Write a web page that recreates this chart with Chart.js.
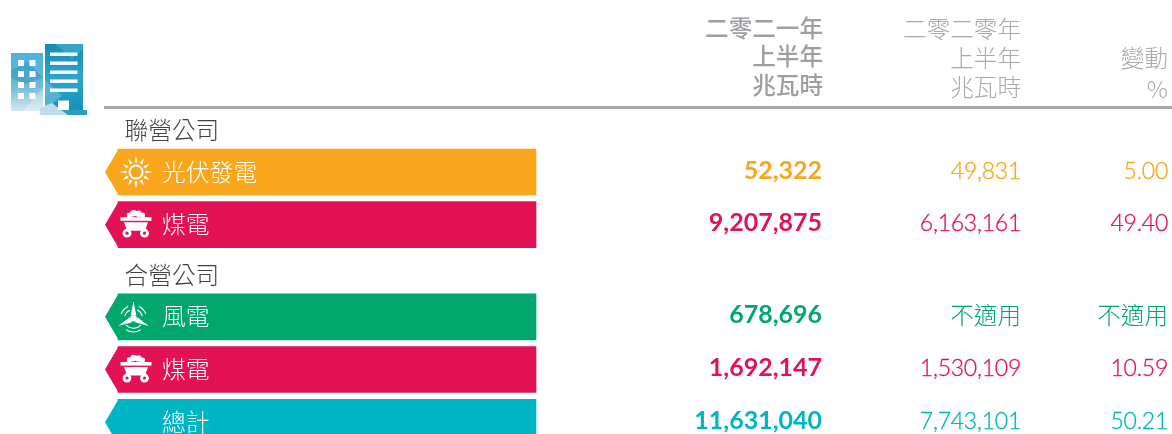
<!DOCTYPE html>
<html>
<head>
<meta charset="utf-8">
<style>
  html, body { margin: 0; padding: 0; background: #fff; overflow: hidden; }
  canvas { display: block; }
</style>
<script src="https://cdn.jsdelivr.net/npm/chart.js@4/dist/chart.umd.min.js"></script>
</head>
<body>
<canvas id="myChart" width="1172" height="434"></canvas>
<script>
const headers2021 = ['二零二一年', '上半年', '兆瓦時'];
const headers2020 = ['二零二零年', '上半年', '兆瓦時'];
const headersChange = ['變動', '%'];
const groupNames = ['聯營公司', '合營公司'];
const bandLabels = ['光伏發電', '煤電', '風電', '煤電', '總計'];
const bandGroups = [0, 0, 1, 1, null];
const bandIcons = ['sun', 'coal', 'wind', 'coal', null];
const values2021 = [52322, 9207875, 678696, 1692147, 11631040];
const values2020 = [49831, 6163161, null, 1530109, 7743101];
const changes = [5.00, 49.40, null, 10.59, 50.21];
const notApplicable = '不適用';

const bandColors = ['#f9a61c', '#e31255', '#02a76d', '#e31255', '#00b5c2'];
const cjk = '"Noto Sans CJK TC"';
const latin = 'Lato, ' + cjk;

// one y unit = one row pitch, section headings sit a bit closer to their first band
const rowPitch = 52.7;
const headingGap = 41 / rowPitch;
const firstHeading = 24 / rowPitch;

let slot = firstHeading - 1;
let lastGroup = -1;
const bandSlots = [];
const headingSlots = [];
bandGroups.forEach(g => {
  if (g !== null && g !== lastGroup) {
    slot += lastGroup === -1 ? 1 : 0.97;
    headingSlots.push(slot);
    slot += headingGap;
    lastGroup = g;
  } else {
    slot += 1;
  }
  bandSlots.push(slot);
});

const fmt = v => v.toLocaleString('en-US');
const fmtPct = v => v.toFixed(2);

function sunIcon(ctx, x, y) {
  ctx.strokeStyle = '#fff';
  ctx.fillStyle = '#fff';
  ctx.lineWidth = 2;
  ctx.beginPath();
  ctx.arc(x, y, 6.5, 0, Math.PI * 2);
  ctx.stroke();
  for (let i = 0; i < 12; i++) {
    const a = i * Math.PI / 6;
    const outer = i % 3 === 0 ? 16.5 : 15.5;
    const c = Math.cos(a), s = Math.sin(a);
    ctx.beginPath();
    ctx.moveTo(x + c * outer, y + s * outer);
    ctx.lineTo(x + c * 9.5 - s * 1.6, y + s * 9.5 + c * 1.6);
    ctx.lineTo(x + c * 9.5 + s * 1.6, y + s * 9.5 - c * 1.6);
    ctx.closePath();
    ctx.fill();
  }
}

function coalIcon(ctx, x, y, color) {
  ctx.fillStyle = '#fff';
  // coal pile
  [[-6, -9.5, 2.8], [-2, -11.5, 3.2], [3, -11, 3.2], [7, -9.5, 2.6]].forEach(b => {
    ctx.beginPath();
    ctx.arc(x + b[0], y + b[1], b[2], 0, Math.PI * 2);
    ctx.fill();
  });
  ctx.fillRect(x - 15, y - 7.5, 31, 3.6);
  ctx.beginPath();
  ctx.moveTo(x - 11.5, y - 2.5);
  ctx.lineTo(x + 12.5, y - 2.5);
  ctx.lineTo(x + 9.5, y + 6);
  ctx.lineTo(x - 8.5, y + 6);
  ctx.closePath();
  ctx.fill();
  [-8.5, 9].forEach(dx => {
    ctx.fillStyle = '#fff';
    ctx.beginPath();
    ctx.arc(x + dx, y + 8.5, 4.4, 0, Math.PI * 2);
    ctx.fill();
    ctx.fillStyle = color;
    ctx.beginPath();
    ctx.arc(x + dx, y + 8.5, 1.6, 0, Math.PI * 2);
    ctx.fill();
  });
}

function windIcon(ctx, x, y) {
  ctx.fillStyle = '#fff';
  ctx.strokeStyle = '#fff';
  [-Math.PI / 2, Math.PI / 6 - 0.06, Math.PI * 5 / 6 + 0.06].forEach(a => {
    const c = Math.cos(a), s = Math.sin(a);
    ctx.beginPath();
    ctx.moveTo(x + c * 17, y + s * 17);
    ctx.lineTo(x + c * 3 - s * 2.8, y + s * 3 + c * 2.8);
    ctx.lineTo(x + c * 3 + s * 2.8, y + s * 3 - c * 2.8);
    ctx.closePath();
    ctx.fill();
  });
  ctx.beginPath();
  ctx.arc(x, y, 3.2, 0, Math.PI * 2);
  ctx.fill();
  ctx.lineWidth = 1.1;
  [[9, -2.9, -2.0], [9, -1.15, -0.25], [13, -2.8, -2.0], [13, -1.15, -0.35], [10, 0.75, 2.4], [13.5, 1.0, 2.15]].forEach(r => {
    ctx.beginPath();
    ctx.arc(x, y, r[0], r[1], r[2]);
    ctx.stroke();
  });
}

function poly(ctx, pts, fill) {
  ctx.fillStyle = fill;
  ctx.beginPath();
  pts.forEach((p, i) => i ? ctx.lineTo(p[0], p[1]) : ctx.moveTo(p[0], p[1]));
  ctx.closePath();
  ctx.fill();
}

function buildingIcon(ctx) {
  const leftFill = ctx.createLinearGradient(0, 53, 0, 112);
  leftFill.addColorStop(0, '#49b3dc');
  leftFill.addColorStop(0.55, '#6fb9d6');
  leftFill.addColorStop(1, '#d5e9f1');
  ctx.fillStyle = leftFill;
  ctx.fillRect(11, 53, 32, 58);
  poly(ctx, [[11, 70], [28, 62], [43, 78], [25, 84], [11, 78]], 'rgba(30,130,175,0.35)');
  poly(ctx, [[22, 112], [43, 88], [43, 112]], 'rgba(255,255,255,0.3)');

  const rightFill = ctx.createLinearGradient(0, 44, 0, 115);
  rightFill.addColorStop(0, '#148db1');
  rightFill.addColorStop(0.5, '#2ea6ca');
  rightFill.addColorStop(1, '#0f8fb5');
  ctx.fillStyle = rightFill;
  ctx.fillRect(45, 44, 38, 66);
  poly(ctx, [[55, 44], [72, 58], [83, 50], [83, 44]], 'rgba(90,190,225,0.45)');
  poly(ctx, [[45, 80], [62, 96], [45, 110]], 'rgba(120,195,220,0.6)');
  poly(ctx, [[40, 110], [87, 110], [87, 115], [40, 115]], '#2a9fc2');
  poly(ctx, [[40, 115], [40, 108], [52, 103], [68, 115]], '#bcdde9');

  ctx.fillStyle = '#fff';
  [60, 71, 82, 93].forEach(wy => {
    ctx.fillRect(18, wy, 6, 6);
    ctx.fillRect(29.5, wy, 6, 6);
  });
  [52.5, 61.5, 70.5, 79.5, 88.5].forEach(wy => ctx.fillRect(50, wy, 27.5, 3.4));
  ctx.fillRect(58, 100.5, 11, 9.5);
}

function writeLines(ctx, lines, right, baselines, font, color, spacing, thicken) {
  ctx.font = font;
  ctx.fillStyle = color;
  ctx.strokeStyle = color;
  ctx.textAlign = 'right';
  ctx.letterSpacing = spacing || '0px';
  lines.forEach((l, i) => {
    ctx.fillText(l, right, baselines[i]);
    // Lato Light is a little thinner than the reference digits
    if (thicken) {
      ctx.lineWidth = thicken;
      ctx.strokeText(l, right, baselines[i]);
    }
  });
  ctx.letterSpacing = '0px';
}

const tablePlugin = {
  id: 'tablePlugin',
  afterDatasetsDraw(chart) {
    const ctx = chart.ctx;
    const yScale = chart.scales.y;
    const bars = chart.getDatasetMeta(0).data;
    ctx.save();
    ctx.beginPath();
    ctx.rect(0, 0, chart.width, chart.height);
    ctx.clip();
    ctx.textBaseline = 'alphabetic';

    // arrow heads on the bands
    bars.forEach((bar, i) => {
      const left = Math.min(bar.x, bar.base);
      poly(ctx, [[left + 0.5, bar.y - bar.height / 2], [left - 13, bar.y], [left + 0.5, bar.y + bar.height / 2]], bandColors[i]);
    });

    buildingIcon(ctx);

    // column headers
    writeLines(ctx, headers2021, 823, [37, 65, 94], '500 23.6px ' + cjk, '#9c9ea1');
    writeLines(ctx, headers2020, 1021, [38, 67, 96], '300 23.6px ' + cjk, '#a7a9ac');
    writeLines(ctx, headersChange, 1168, [67, 98], '300 23.6px ' + cjk, '#a7a9ac');

    // section headings
    groupNames.forEach((name, i) => {
      ctx.font = '300 23.7px ' + cjk;
      ctx.fillStyle = '#414042';
      ctx.textAlign = 'left';
      ctx.fillText(name, 124.5, yScale.getPixelForValue(headingSlots[i]) + 8);
    });

    bars.forEach((bar, i) => {
      const color = bandColors[i];
      const y = bar.y;
      if (bandIcons[i] === 'sun') sunIcon(ctx, 136, y);
      if (bandIcons[i] === 'coal') coalIcon(ctx, 135.5, y, color);
      if (bandIcons[i] === 'wind') windIcon(ctx, 133.5, y + 1.5);

      ctx.font = '300 23.8px ' + cjk;
      ctx.fillStyle = '#fff';
      ctx.textAlign = 'left';
      ctx.fillText(bandLabels[i], 162, y + 8.5);

      const numY = y + 6.5;
      const cjkY = y + 7.5;
      writeLines(ctx, [fmt(values2021[i])], 822, [numY], '700 25px ' + latin, color);
      if (values2020[i] === null) {
        writeLines(ctx, [notApplicable], 1021, [cjkY], '300 23.6px ' + cjk, color);
      } else {
        writeLines(ctx, [fmt(values2020[i])], 1021, [numY], '300 23px ' + latin, color, '-0.25px', 0.3);
      }
      if (changes[i] === null) {
        writeLines(ctx, [notApplicable], 1168, [cjkY], '300 23.6px ' + cjk, color);
      } else {
        writeLines(ctx, [fmtPct(changes[i])], 1168, [numY], '300 23px ' + latin, color, '-0.25px', 0.3);
      }
    });
    ctx.restore();
  }
};

new Chart(document.getElementById('myChart'), {
  type: 'bar',
  data: {
    datasets: [{
      data: bandSlots.map(s => ({ x: [13, 431], y: s })),
      backgroundColor: bandColors,
      barThickness: 46,
      borderWidth: 0
    }]
  },
  options: {
    indexAxis: 'y',
    responsive: false,
    animation: false,
    devicePixelRatio: 1,
    layout: { padding: { left: 105, top: 107, right: 0, bottom: 0 } },
    plugins: { legend: { display: false }, tooltip: { enabled: false } },
    scales: {
      x: {
        type: 'linear',
        position: 'top',
        min: 0,
        max: 1067,
        ticks: { display: false },
        grid: { drawOnChartArea: false, drawTicks: false },
        border: { display: true, color: '#a7a9ac', width: 3 }
      },
      y: {
        type: 'linear',
        display: false,
        offset: false,
        reverse: true,
        min: 0,
        max: 327 / rowPitch
      }
    }
  },
  plugins: [tablePlugin]
});
</script>
</body>
</html>
